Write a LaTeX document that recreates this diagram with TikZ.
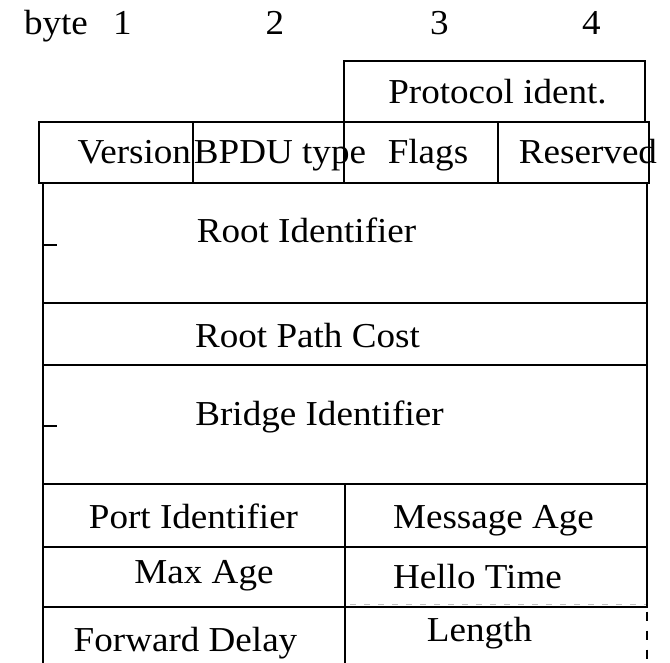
\documentclass[tikz,border=0pt]{standalone}
\usepackage{fontspec}
\setmainfont[FakeStretch=1.06]{Liberation Serif}
\begin{document}
\begin{tikzpicture}[x=1pt,y=-1pt,
  rule/.style={line width=2.1pt, line cap=rect},
  ghost/.style={line width=1pt, draw=black!25, dash pattern=on 6pt off 8pt},
  brk/.style={line width=2.1pt, dash pattern=on 9pt off 10pt, dash phase=14pt},
  lbl/.style={anchor=base, inner sep=0pt, font=\fontsize{35}{40}\selectfont}]
\useasboundingbox (0,0) rectangle (670,663);

% byte numbering above the fields
\node[lbl] (byte) at (56,34.5) {byte};
\node[lbl] (b1) at (122.5,34.5) {1};
\node[lbl] (b2) at (275,34.5) {2};
\node[lbl] (b3) at (439.5,34.5) {3};
\node[lbl] (b4) at (591.5,34.5) {4};

% protocol identifier field
\draw[rule] (344,61) rectangle (645,121.7);
\node[lbl] (proto) at (497.5,103.3) {Protocol ident.};

% version / type / flags / reserved row
\draw[rule] (39.3,122.3) rectangle (649.3,182.7);
\draw[rule] (192.7,122.3) -- (192.7,182.7);
\draw[rule] (344.3,122.3) -- (344.3,182.7);
\draw[rule] (498,122.3) -- (498,182.7);
\node[lbl] (ver) at (134.3,163.3) {Version};
\node[lbl] (type) at (280,163.3) {BPDU type};
\node[lbl] (flags) at (428,163.3) {Flags};
\node[lbl] (res) at (588,163.3) {Reserved};

% body of the frame
\draw[rule] (43,182.7) -- (43,663);
\draw[rule] (646.7,182.7) -- (646.7,606.7);
\draw[brk] (646.7,606.7) -- (646.7,663);
\foreach \yy in {303,365,484,546.7,606.7}
  \draw[rule] (43,\yy) -- (646.7,\yy);
\draw[rule] (345,484) -- (345,663);
\draw[ghost] (350,604.3) -- (646,604.3);

% small marks on the left edge of the 8-byte fields
\draw[rule, line cap=butt] (43,245) -- (57,245);
\draw[rule, line cap=butt] (43,426) -- (57,426);

\node[lbl] (rootid) at (306.5,243) {Root Identifier};
\node[lbl] (cost) at (307.5,348) {Root Path Cost};
\node[lbl] (bridge) at (319.5,425) {Bridge Identifier};
\node[lbl] (port) at (193.5,528.3) {Port Identifier};
\node[lbl] (msgage) at (493.5,528.5) {Message Age};
\node[lbl] (maxage) at (204,583.3) {Max Age};
\node[lbl] (hello) at (477.5,588) {Hello Time};
\node[lbl] (fwd) at (185.5,651) {Forward Delay};
\node[lbl] (len) at (479.5,641.5) {Length};
\end{tikzpicture}
\end{document}
